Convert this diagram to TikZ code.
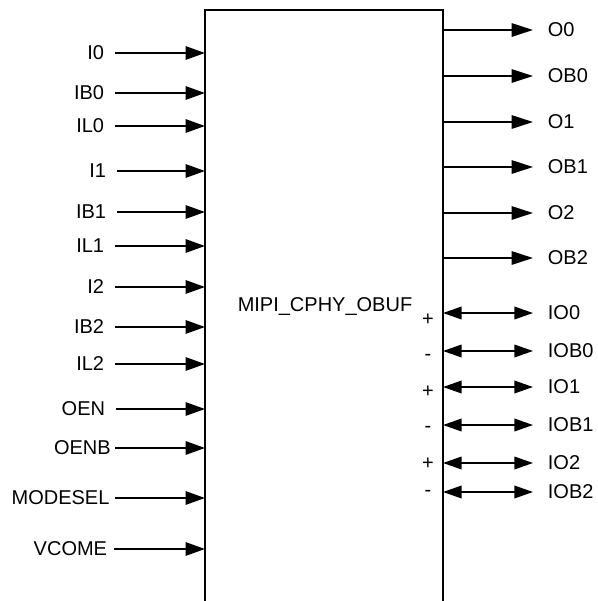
\documentclass[tikz,border=0pt]{standalone}
\usepackage{fontspec}
\setmainfont{Liberation Sans}
\usetikzlibrary{arrows.meta}

\tikzset{
	inpin/.style={anchor=east, inner xsep=8pt, inner ysep=0pt},
	outpin/.style={anchor=west, inner xsep=11pt, inner ysep=0pt},
	sig/.style={line width=1.4pt, -{Triangle[length=14.5pt,width=10pt]}},
	osig/.style={line width=1.4pt, -{Triangle[length=16pt,width=10pt]}},
	iosig/.style={line width=1.1pt, {Triangle[length=14pt,width=9.5pt]}-{Triangle[length=14pt,width=9.5pt]}},
	polarity/.style={inner sep=0pt}
}

\begin{document}
\begin{tikzpicture}[x=0.75pt,y=-0.75pt,font=\fontsize{15}{17}\selectfont]
		\useasboundingbox (0,0) rectangle (598,601);
		
		% block
		\draw[line width=1.6pt](205,601)--(205,10)--(443,10)--(443,601);
		\coordinate (bl) at (205,0);
		\coordinate (br) at (443,0);
		\node (title) at (325,306){MIPI\_CPHY\_OBUF};
		
		% inputs
		\node[inpin] (i0) at (115,53){I0};
		\draw[sig](i0.east)--(i0.east -| bl);
		\node[inpin] (ib0) at (115,93){IB0};
		\draw[sig](ib0.east)--(ib0.east -| bl);
		\node[inpin] (il0) at (115,126){IL0};
		\draw[sig](il0.east)--(il0.east -| bl);
		\node[inpin] (i1) at (117,171){I1};
		\draw[sig](i1.east)--(i1.east -| bl);
		\node[inpin] (ib1) at (117,212){IB1};
		\draw[sig](ib1.east)--(ib1.east -| bl);
		\node[inpin] (il1) at (115,246){IL1};
		\draw[sig](il1.east)--(il1.east -| bl);
		\node[inpin] (i2) at (115,287){I2};
		\draw[sig](i2.east)--(i2.east -| bl);
		\node[inpin] (ib2) at (115,327){IB2};
		\draw[sig](ib2.east)--(ib2.east -| bl);
		\node[inpin] (il2) at (115,364){IL2};
		\draw[sig](il2.east)--(il2.east -| bl);
		\node[inpin] (oen) at (116,409){OEN};
		\draw[sig](oen.east)--(oen.east -| bl);
		\node[inpin,inner xsep=3pt] (oenb) at (115,448){OENB};
		\draw[sig](oenb.east)--(oenb.east -| bl);
		\node[inpin,inner xsep=4pt] (modesel) at (115,498){MODESEL};
		\draw[sig](modesel.east)--(modesel.east -| bl);
		\node[inpin,inner xsep=5pt] (vcome) at (114,549){VCOME};
		\draw[sig](vcome.east)--(vcome.east -| bl);
		
		% outputs
		\node[outpin] (o0) at (533,30){O0};
		\draw[osig](o0.west -| br)--(o0.west);
		\node[outpin] (ob0) at (533,76){OB0};
		\draw[osig](ob0.west -| br)--(ob0.west);
		\node[outpin] (o1) at (533,122){O1};
		\draw[osig](o1.west -| br)--(o1.west);
		\node[outpin] (ob1) at (533,167){OB1};
		\draw[osig](ob1.west -| br)--(ob1.west);
		\node[outpin] (o2) at (533,213){O2};
		\draw[osig](o2.west -| br)--(o2.west);
		\node[outpin] (ob2) at (533,258){OB2};
		\draw[osig](ob2.west -| br)--(ob2.west);
		
		% bidirectional pads
		\node[outpin] (io0) at (533,313){IO0};
		\draw[iosig](io0.west -| br)--(io0.west);
		\node[outpin] (iob0) at (533,351){IOB0};
		\draw[iosig](iob0.west -| br)--(iob0.west);
		\node[outpin] (io1) at (533,387){IO1};
		\draw[iosig](io1.west -| br)--(io1.west);
		\node[outpin] (iob1) at (533,425){IOB1};
		\draw[iosig](iob1.west -| br)--(iob1.west);
		\node[outpin] (io2) at (533,463){IO2};
		\draw[iosig](io2.west -| br)--(io2.west);
		\node[outpin] (iob2) at (533,492){IOB2};
		\draw[iosig](iob2.west -| br)--(iob2.west);
		
		\node[polarity] (p0) at (428,320){+};
		\node[polarity] (n0) at (428,357){-};
		\node[polarity] (p1) at (428,392){+};
		\node[polarity] (n1) at (428,429){-};
		\node[polarity] (p2) at (428,464){+};
		\node[polarity] (n2) at (428,493){-};
\end{tikzpicture}
\end{document}
